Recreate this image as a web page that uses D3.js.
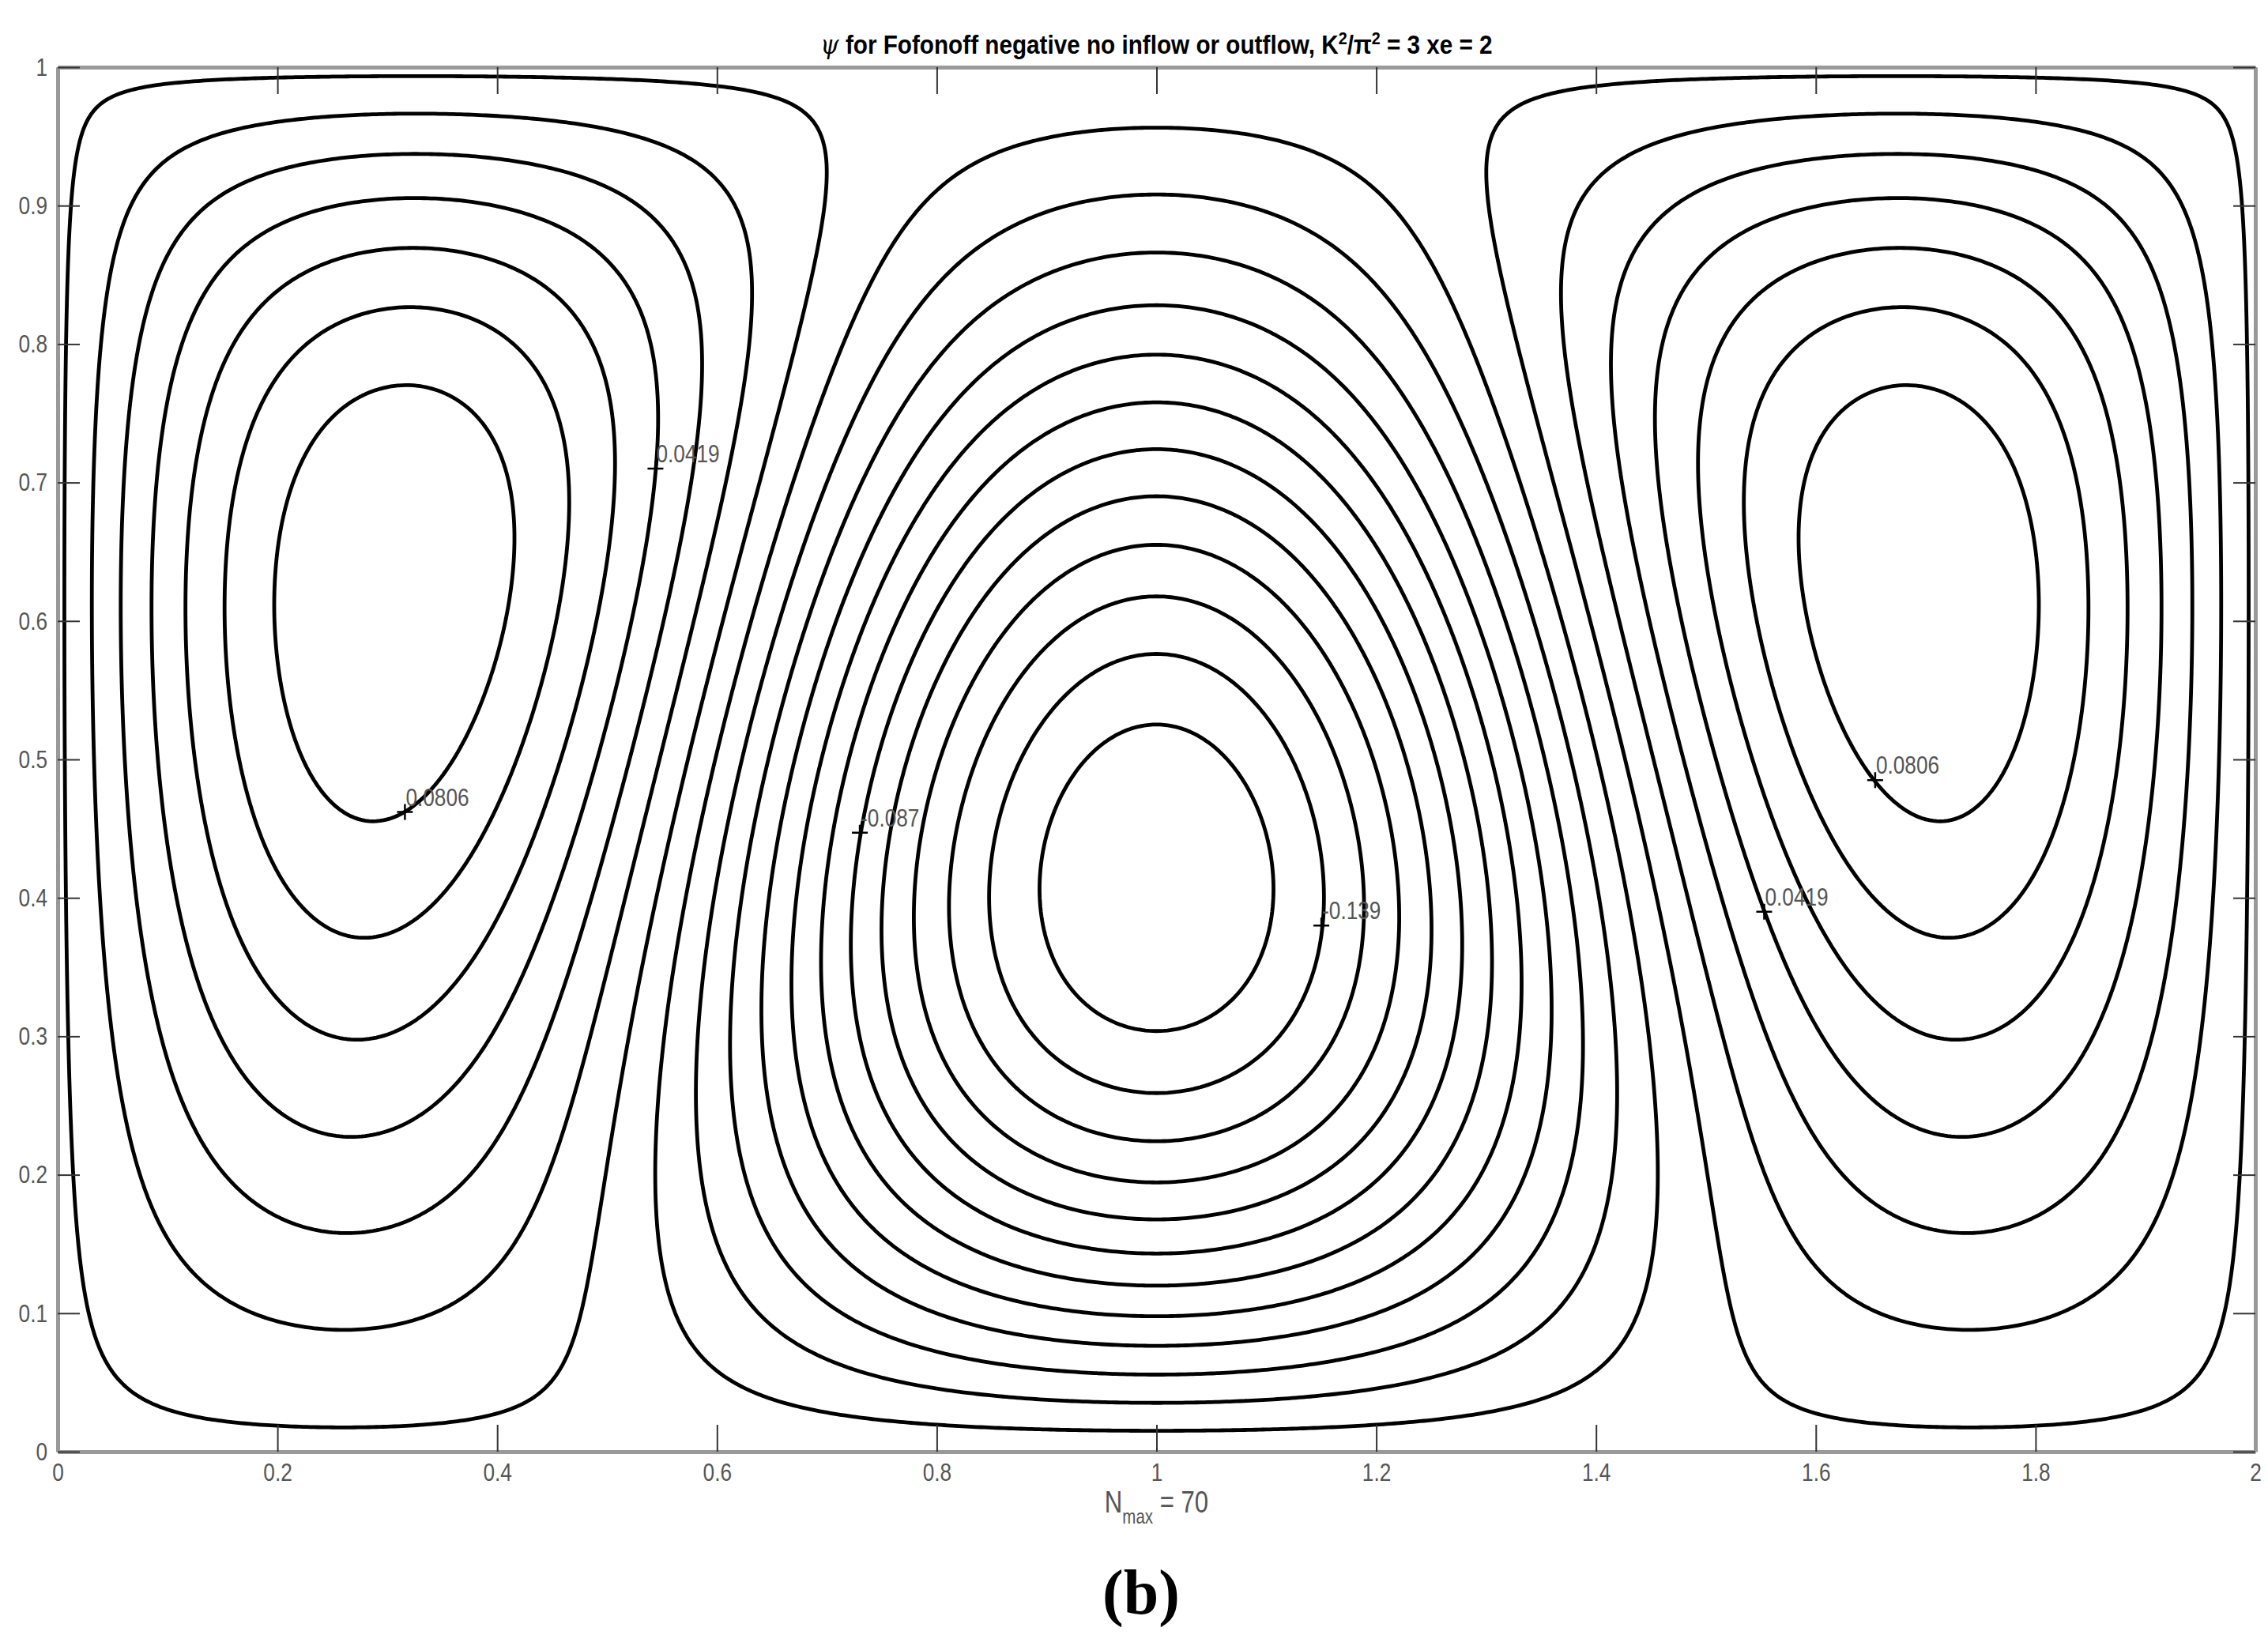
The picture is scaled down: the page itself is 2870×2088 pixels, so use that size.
<!DOCTYPE html>
<html>
<head>
<meta charset="utf-8">
<script src="https://cdn.jsdelivr.net/npm/d3@7"></script>
<style>
  body { margin: 0; background: #fff; }
  svg text { font-family: "Liberation Sans", Arial, sans-serif; }
</style>
</head>
<body>
<script>
// problem parameters, as printed on the figure
const kSqOverPiSq = 3;   // K^2 / pi^2
const xe = 2;            // basin length
const nMax = 70;         // number of modes in each direction

// contour levels (spacing taken from the labelled values)
const levels = [0.0806, 0.0677, 0.0548, 0.0419, 0.0290, 0.0161, 0.0032,
  -0.0097, -0.0226, -0.0355, -0.0484, -0.0613, -0.0742, -0.0871,
  -0.1000, -0.1129, -0.1258, -0.1387, -0.1516];

// clabel positions
const labelText = ['0.0806', '0.0419', '-0.087', '-0.139', '0.0806', '0.0419'];
const labelX = [0.316, 0.544, 0.730, 1.150, 1.654, 1.553];
const labelY = [0.462, 0.710, 0.447, 0.380, 0.485, 0.390];

const xTicks = [0, 0.2, 0.4, 0.6, 0.8, 1, 1.2, 1.4, 1.6, 1.8, 2];
const yTicks = [0, 0.1, 0.2, 0.3, 0.4, 0.5, 0.6, 0.7, 0.8, 0.9, 1];

const width = 2870;
const height = 2088;
const margin = { top: 85, right: 16, bottom: 251, left: 73 };
const narrow = 0.82; // the original font is a narrow sans

const svg = d3.select('body')
  .append('svg')
  .attr('width', width)
  .attr('height', height);

const x = d3.scaleLinear().domain([0, xe]).range([margin.left, width - margin.right]);
const y = d3.scaleLinear().domain([0, 1]).range([height - margin.bottom, margin.top]);

// streamfunction: del^2 psi + K^2 psi = -y, psi = 0 on the walls, sine series
const K2 = kSqOverPiSq * Math.PI * Math.PI;
const nx = 601, ny = 301;
const gx = d3.range(nx).map(i => i / (nx - 1) * xe);
const gy = d3.range(ny).map(j => j / (ny - 1));
const modesM = d3.range(1, nMax + 1, 2);
const modesN = d3.range(1, nMax + 1);

const rowSums = modesM.map(m => {
  const row = new Float64Array(ny);
  modesN.forEach(n => {
    const lam = Math.PI * Math.PI * (m * m / (xe * xe) + n * n);
    const f = (4 / (m * Math.PI)) * (2 * (n % 2 ? 1 : -1) / (n * Math.PI));
    const a = -f / (K2 - lam);
    for (let j = 0; j < ny; j++) row[j] += a * Math.sin(n * Math.PI * gy[j]);
  });
  return row;
});

const psi = new Float64Array(nx * ny);
modesM.forEach((m, k) => {
  const sx = gx.map(v => Math.sin(m * Math.PI * v / xe));
  const row = rowSums[k];
  for (let j = 0; j < ny; j++) {
    for (let i = 0; i < nx; i++) psi[j * nx + i] += sx[i] * row[j];
  }
});

// positive and negative levels contoured separately so no ring runs along the walls
const posLevels = levels.filter(l => l > 0);
const negLevels = levels.filter(l => l < 0).map(l => -l);
const contoursPos = d3.contours().size([nx, ny]).thresholds(posLevels)(Array.from(psi));
const contoursNeg = d3.contours().size([nx, ny]).thresholds(negLevels)(Array.from(psi, v => -v));

const gridToPx = d3.geoTransform({
  point(px, py) {
    this.stream.point(x((px - 0.5) / (nx - 1) * xe), y((py - 0.5) / (ny - 1)));
  }
});
const path = d3.geoPath(gridToPx);

svg.append('g')
  .selectAll('path')
  .data(contoursPos.concat(contoursNeg))
  .join('path')
  .attr('d', path)
  .attr('fill', 'none')
  .attr('stroke', '#000')
  .attr('stroke-width', 4.8)
  .attr('stroke-linejoin', 'round');

// axes box with inward ticks
const styleAxis = g => {
  g.select('.domain').attr('stroke', '#999').attr('stroke-width', 5);
  g.selectAll('.tick line').attr('stroke', '#333').attr('stroke-width', 2);
  g.selectAll('.tick text')
    .attr('fill', '#555')
    .attr('font-size', 32)
    .attr('font-family', null)
    .attr('x', function() { return (+d3.select(this).attr('x') || 0) / narrow; })
    .attr('transform', `scale(${narrow},1)`);
};

svg.append('g')
  .attr('transform', `translate(0,${y(0)})`)
  .call(d3.axisBottom(x).tickValues(xTicks).tickSizeInner(-34).tickSizeOuter(0).tickPadding(14).tickFormat(d => String(d)))
  .call(styleAxis);

svg.append('g')
  .attr('transform', `translate(0,${y(1)})`)
  .call(d3.axisTop(x).tickValues(xTicks).tickSizeInner(-34).tickSizeOuter(0).tickFormat(''))
  .call(styleAxis);

svg.append('g')
  .attr('transform', `translate(${x(0)},0)`)
  .call(d3.axisLeft(y).tickValues(yTicks).tickSizeInner(-28).tickSizeOuter(0).tickPadding(13).tickFormat(d => String(d)))
  .call(styleAxis);

svg.append('g')
  .attr('transform', `translate(${x(xe)},0)`)
  .call(d3.axisRight(y).tickValues(yTicks).tickSizeInner(-28).tickSizeOuter(0).tickFormat(''))
  .call(styleAxis);

// contour labels
const labels = svg.append('g');
labelText.forEach((t, i) => {
  const px = x(labelX[i]), py = y(labelY[i]);
  labels.append('path')
    .attr('d', `M${px - 10},${py}H${px + 10}M${px},${py - 10}V${py + 10}`)
    .attr('stroke', '#000')
    .attr('stroke-width', 2.5);
  labels.append('text')
    .attr('transform', `translate(${px + 1},${py - 8}) scale(${narrow},1)`)
    .attr('font-size', 32)
    .attr('fill', '#555')
    .text(t);
});

// title
const title = svg.append('text')
  .attr('transform', `translate(${(x(0) + x(xe)) / 2},68) scale(0.9,1)`)
  .attr('text-anchor', 'middle')
  .attr('font-size', 33)
  .attr('font-weight', 'bold')
  .attr('fill', '#000');
title.append('tspan').attr('font-style', 'italic').attr('font-weight', 'normal').attr('font-family', 'DejaVu Serif').text('ψ');
title.append('tspan').text(' for Fofonoff negative no inflow or outflow, K');
title.append('tspan').attr('dy', -12).attr('font-size', 22).text('2');
title.append('tspan').attr('dy', 12).text('/π');
title.append('tspan').attr('dy', -12).attr('font-size', 22).text('2');
title.append('tspan').attr('dy', 12).text(' = 3 xe = 2');

// x label
const xlab = svg.append('text')
  .attr('transform', `translate(${(x(0) + x(xe)) / 2},1914) scale(${narrow},1)`)
  .attr('text-anchor', 'middle')
  .attr('font-size', 38)
  .attr('fill', '#555');
xlab.append('tspan').text('N');
xlab.append('tspan').attr('dy', 14).attr('font-size', 25).text('max');
xlab.append('tspan').attr('dy', -14).text(' = 70');

// panel letter
svg.append('text')
  .attr('x', 1444)
  .attr('y', 2042)
  .attr('text-anchor', 'middle')
  .style('font-family', '"Liberation Serif", serif')
  .attr('font-size', 80)
  .attr('font-weight', 'bold')
  .text('(b)');
</script>
</body>
</html>
